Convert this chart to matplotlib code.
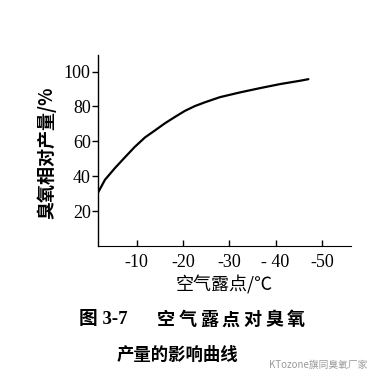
import matplotlib.pyplot as plt

# 空气露点 (℃) 与 臭氧相对产量 (%)
dew_point = [-1.6, -3.15, -5.3, -7.5, -9.6, -11.8, -14.0, -16.1, -18.3, -20.4,
             -22.6, -24.8, -28.0, -32.3, -36.7, -41.0, -45.3, -47.1]
ozone_yield = [30.3, 37.9, 44.6, 50.9, 56.8, 62.2, 66.3, 70.3, 74.0, 77.4,
               80.2, 82.4, 85.3, 88.0, 90.5, 92.8, 94.7, 95.6]

x_ticks = [-10, -20, -30, -40, -50]
x_labels = ["-10", "-20", "-30", "- 40", "-50"]
y_ticks = [20, 40, 60, 80, 100]

cjk = ["Noto Sans CJK SC", "DejaVu Sans"]
num = "Liberation Serif"

fig = plt.figure(figsize=(3.77, 3.83), dpi=100)
ax = fig.add_axes([0.259, 0.358, 0.672, 0.499])

ax.plot(dew_point, ozone_yield, color="black", lw=1.6,
        solid_joinstyle="round", solid_capstyle="round")

ax.set_xlim(-1.57, -56.3)
ax.set_ylim(0, 109.6)
ax.spines["top"].set_visible(False)
ax.spines["right"].set_visible(False)
ax.spines["left"].set_linewidth(1.0)
ax.spines["bottom"].set_linewidth(0.8)

ax.set_xticks(x_ticks)
ax.set_xticklabels(x_labels, fontfamily=num, fontsize=13)
ax.set_yticks(y_ticks)
ax.set_yticklabels([str(v) for v in y_ticks], fontfamily=num, fontsize=13)
ax.tick_params(axis="x", direction="in", length=4, width=1, pad=6)
ax.tick_params(axis="y", direction="out", length=4, width=1, pad=1)

fig.text(0.125, 0.60, "臭氧相对产量/%", rotation=90, ha="center", va="center",
         family=cjk, fontsize=13, fontweight="bold")
fig.text(0.594, 0.255, "空气露点/℃", ha="center", va="center",
         family=cjk, fontsize=13)

# 图题第一行（字距较宽）
fig.text(0.273, 0.165, "图 3-7", ha="center", va="center",
         family=["Liberation Serif", "Noto Sans CJK SC"], fontsize=13.5, fontweight="bold")
for i, ch in enumerate("空气露点对臭氧"):
    fig.text((166 + 21.6 * i) / 377, 0.165, ch, ha="center", va="center",
             family=cjk, fontsize=13, fontweight="bold")
fig.text(0.47, 0.073, "产量的影响曲线", ha="center", va="center",
         family=cjk, fontsize=12.5, fontweight="bold")
fig.text(0.845, 0.047, "KTozone旗同臭氧厂家", ha="center", va="center",
         family=cjk, fontsize=7, color="#9a9a9a")

fig.savefig("out.png", dpi=100)
